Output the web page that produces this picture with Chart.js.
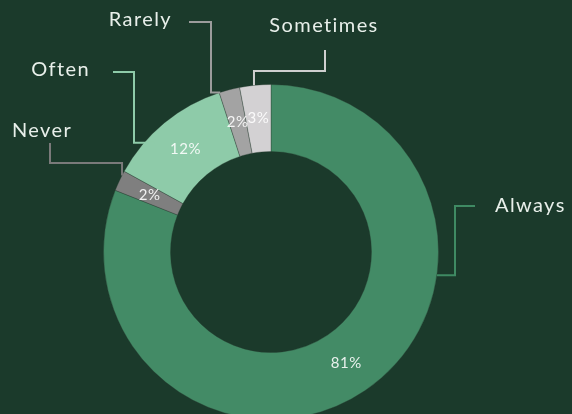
<!DOCTYPE html>
<html>
<head>
<meta charset="utf-8">
<script src="https://cdn.jsdelivr.net/npm/chart.js@4.4.1/dist/chart.umd.min.js"></script>
<style>
  html, body { margin: 0; padding: 0; background: #1b3a2b; overflow: hidden; }
  #wrap { position: relative; width: 572px; height: 424px; }
</style>
</head>
<body>
<div id="wrap"><canvas id="c"></canvas></div>
<script>
// ---- data ----
const categories = ['Always', 'Never', 'Often', 'Rarely', 'Sometimes'];
const values = [81, 2, 12, 2, 3];
const sliceColors = ['#438b66', '#7f7f7f', '#8ecba9', '#a3a3a3', '#d3d1d3'];
const lineColors = ['#3f8a63', '#7a7a7a', '#8ecba9', '#9c9c9c', '#cfcfcf'];

// ---- leader layout (annotation placement, relative to chart centre) ----
const leaders = [
  { frac: 0.336, rf: 1.0,   route: 'HVH', e: 184,  lx: 204,  ly: -46,  tx: 224,  ty: -46,  align: 'left' },
  { frac: 0.78,  rf: 1.0,   route: 'VHV', e: -89,  lx: -221, ly: -109, tx: -229, ty: -121, align: 'center' },
  { frac: 0.333, rf: 0.952, route: 'HVH', e: -137, lx: -158, ly: -180, tx: -181, ty: -182, align: 'right' },
  { frac: 0.05,  rf: 1.0,   route: 'HVH', e: -60,  lx: -82,  ly: -230, tx: -99,  ty: -232, align: 'right' },
  { frac: 0.46,  rf: 1.0,   route: 'VHV', e: -181, lx: 54,   ly: -202, tx: 53,   ty: -226, align: 'center' }
];

const FONT = 'Lato, "Open Sans", sans-serif';

const labelPlugin = {
  id: 'leaderLabels',
  afterDatasetsDraw(chart) {
    const ctx = chart.ctx;
    const meta = chart.getDatasetMeta(0);
    const total = values.reduce((a, b) => a + b, 0);
    meta.data.forEach((arc, i) => {
      const p = arc.getProps(['x', 'y', 'startAngle', 'endAngle', 'outerRadius', 'innerRadius'], true);
      const cx = p.x, cy = p.y;
      const mid = (p.startAngle + p.endAngle) / 2;
      const rm = (p.outerRadius + p.innerRadius) / 2;
      ctx.save();
      ctx.font = '400 15px ' + FONT;
      ctx.letterSpacing = '0.6px';
      ctx.fillStyle = 'rgba(255,255,255,0.88)';
      ctx.textAlign = 'center';
      ctx.textBaseline = 'middle';
      ctx.fillText(Math.round(values[i] / total * 100) + '%', cx + rm * Math.cos(mid), cy + rm * Math.sin(mid));
      ctx.restore();

      const L = leaders[i];
      const a = p.startAngle + (p.endAngle - p.startAngle) * L.frac;
      const r = p.outerRadius * L.rf;
      const ax = cx + r * Math.cos(a), ay = cy + r * Math.sin(a);
      ctx.save();
      ctx.strokeStyle = lineColors[i];
      ctx.lineWidth = 2;
      ctx.lineJoin = 'miter';
      ctx.beginPath();
      ctx.moveTo(ax, ay);
      if (L.route === 'HVH') {
        ctx.lineTo(cx + L.e, ay);
        ctx.lineTo(cx + L.e, cy + L.ly);
        ctx.lineTo(cx + L.lx, cy + L.ly);
      } else {
        ctx.lineTo(ax, cy + L.e);
        ctx.lineTo(cx + L.lx, cy + L.e);
        ctx.lineTo(cx + L.lx, cy + L.ly);
      }
      ctx.stroke();
      ctx.font = '400 20px ' + FONT;
      ctx.letterSpacing = '1.4px';
      ctx.fillStyle = '#e8efea';
      ctx.textAlign = L.align;
      ctx.textBaseline = 'middle';
      ctx.fillText(categories[i], cx + L.tx, cy + L.ty);
      ctx.restore();
    });
  }
};

new Chart(document.getElementById('c'), {
  type: 'doughnut',
  data: {
    labels: categories,
    datasets: [{
      data: values,
      backgroundColor: sliceColors,
      borderColor: 'rgba(40,60,50,0.35)',
      borderWidth: 1
    }]
  },
  options: {
    responsive: true,
    maintainAspectRatio: false,
    animation: false,
    cutout: '60%',
    layout: { padding: { left: 103, right: 133, top: 84, bottom: 4 } },
    plugins: { legend: { display: false }, tooltip: { enabled: false } }
  },
  plugins: [labelPlugin]
});
</script>
</body>
</html>
